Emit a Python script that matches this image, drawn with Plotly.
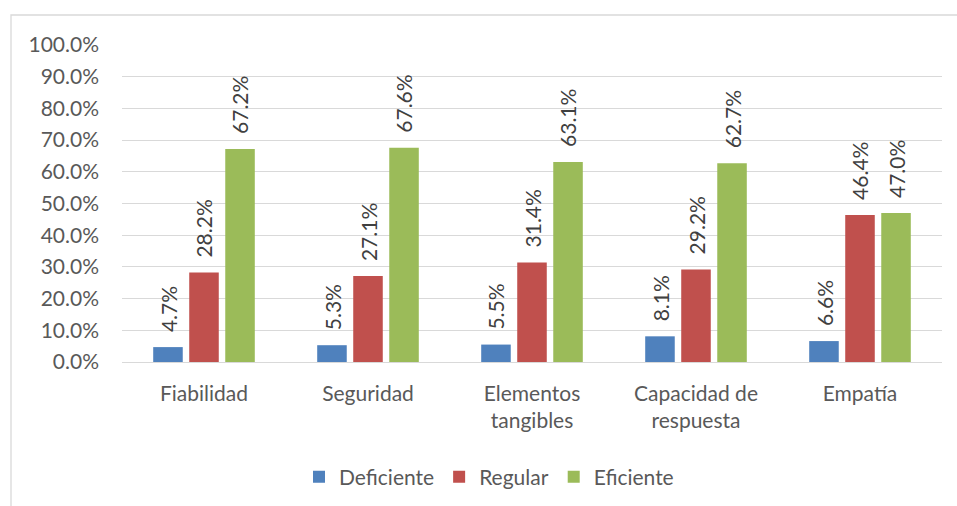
import plotly.graph_objects as go

categories = ["Fiabilidad", "Seguridad", "Elementos<br>tangibles", "Capacidad de<br>respuesta", "Empatía"]
series_names = ["Deficiente", "Regular", "Eficiente"]
deficiente = [0.047, 0.053, 0.055, 0.081, 0.066]
regular = [0.282, 0.271, 0.314, 0.292, 0.464]
eficiente = [0.672, 0.676, 0.631, 0.627, 0.470]
colors = ["#4F81BD", "#C0504D", "#9BBB59"]
y_ticks = [i / 10 for i in range(11)]

FONT = "Lato, Liberation Sans, sans-serif"
W, H = 957, 506
L, R, T, B = 122, 15, 45, 144
pw, ph = W - L - R, H - T - B

fig = go.Figure()
all_series = [deficiente, regular, eficiente]
for name, vals, col in zip(series_names, all_series, colors):
    fig.add_trace(go.Bar(x=categories, y=vals, name=name, marker=dict(color=col, line=dict(width=0))))

annotations = []
offsets = [-36, 0, 36]
for vals, off in zip(all_series, offsets):
    for c, v in zip(categories, vals):
        annotations.append(dict(
            x=c, y=v, xref="x", yref="y", text=f"{v*100:.1f}%", showarrow=False,
            textangle=-90, xanchor="center", yanchor="bottom", xshift=off, yshift=13,
            font=dict(family=FONT, size=21, color="#404040")))

shapes = [dict(type="rect", xref="paper", yref="paper",
               x0=(11 - L) / pw, x1=(W + 30 - L) / pw,
               y0=-(B + 30) / ph, y1=(H - B - 15) / ph,
               line=dict(color="#D9D9D9", width=1.3), fillcolor="rgba(0,0,0,0)", layer="below")]

fig.update_layout(
    width=W, height=H,
    margin=dict(l=L, r=R, t=T, b=B, pad=0, autoexpand=False),
    paper_bgcolor="white", plot_bgcolor="white",
    barmode="group", bargap=0.341, bargroupgap=0.18,
    font=dict(family=FONT, size=21, color="#595959"),
    xaxis=dict(showgrid=False, showline=False, ticks="", tickfont=dict(size=21, color="#595959"),
               ticklabelstandoff=17, automargin=False),
    yaxis=dict(range=[0, 1.0], tickvals=y_ticks, tickformat=".1%", showgrid=True,
               gridcolor="#D9D9D9", gridwidth=1.3, zeroline=True, zerolinecolor="#D9D9D9",
               zerolinewidth=1.3, showline=False, ticks="", ticklabelstandoff=22,
               tickfont=dict(size=21, color="#595959"), automargin=False),
    legend=dict(orientation="h", x=(489 - L) / pw, xanchor="center", y=(T + ph - 477) / ph,
                yanchor="middle", font=dict(size=21, color="#595959"), traceorder="normal",
                itemwidth=30),
    annotations=annotations, shapes=shapes,
)

fig.write_html("out.html")
